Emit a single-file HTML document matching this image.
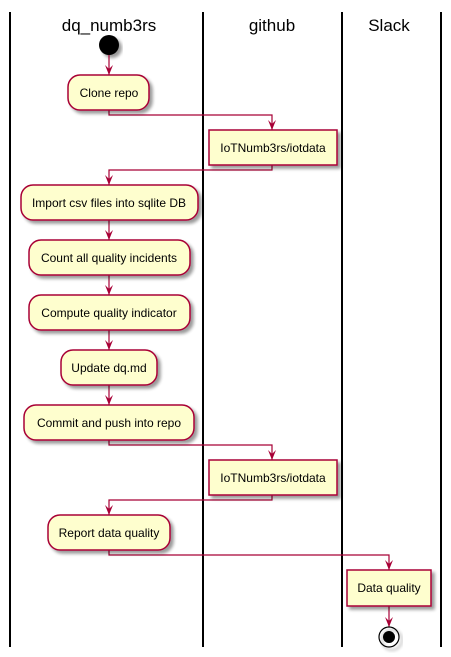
<!DOCTYPE html>
<html><head><style>body{margin:0;background:#fff}svg{display:block}</style></head><body>
<svg width="451" height="657" viewBox="0 0 451 657" xmlns="http://www.w3.org/2000/svg" font-family="Liberation Sans, sans-serif">
<defs><filter id="s" x="-10%" y="-10%" width="130%" height="140%"><feGaussianBlur in="SourceAlpha" stdDeviation="1.5"/><feOffset dx="3" dy="3"/><feComponentTransfer><feFuncA type="linear" slope="0.4"/></feComponentTransfer><feMerge><feMergeNode/><feMergeNode in="SourceGraphic"/></feMerge></filter>
<marker id="a" viewBox="0 0 12 12" refX="6" refY="11" markerWidth="12" markerHeight="12" markerUnits="userSpaceOnUse" orient="auto-start-reverse"></marker></defs>
<g stroke="#000" stroke-width="2"><line x1="10" y1="12" x2="10" y2="647"/><line x1="203" y1="12" x2="203" y2="647"/><line x1="342" y1="12" x2="342" y2="647"/><line x1="441" y1="12" x2="441" y2="647"/></g>
<g font-size="17" text-anchor="middle" fill="#000"><text x="109" y="31">dq_numb3rs</text><text x="272" y="31">github</text><text x="389" y="31">Slack</text></g>
<circle cx="109" cy="45" r="10" fill="#000" filter="url(#s)"/>
<g fill="none" stroke="#A80036" stroke-width="1.2">
<polyline points="109,55 109,75"/>
<polyline points="109,110 109,115 272,115 272,130"/>
<polyline points="272,165 272,170 109,170 109,185"/>
<polyline points="109,220 109,240"/>
<polyline points="109,275 109,295"/>
<polyline points="109,330 109,350"/>
<polyline points="109,385 109,405"/>
<polyline points="109,440 109,445 272,445 272,460"/>
<polyline points="272,495 272,500 109,500 109,515"/>
<polyline points="109,550 109,555 389,555 389,570"/>
<polyline points="389,606 389,627"/>
</g>
<g fill="#A80036">
<path d="M105,65 L109,75 L113,65 L109,69Z"/>
<path d="M268,120 L272,130 L276,120 L272,124Z"/>
<path d="M105,175 L109,185 L113,175 L109,179Z"/>
<path d="M105,230 L109,240 L113,230 L109,234Z"/>
<path d="M105,285 L109,295 L113,285 L109,289Z"/>
<path d="M105,340 L109,350 L113,340 L109,344Z"/>
<path d="M105,395 L109,405 L113,395 L109,399Z"/>
<path d="M268,450 L272,460 L276,450 L272,454Z"/>
<path d="M105,505 L109,515 L113,505 L109,509Z"/>
<path d="M385,560 L389,570 L393,560 L389,564Z"/>
<path d="M385,617 L389,627 L393,617 L389,621Z"/>
</g>
<g fill="#FEFECE" stroke="#A80036" stroke-width="1.5" filter="url(#s)">
<rect x="68" y="75" width="81" height="35" rx="12"/>
<rect x="209" y="130" width="128" height="35"/>
<rect x="21" y="185" width="177" height="35" rx="12"/>
<rect x="29" y="240" width="161" height="35" rx="12"/>
<rect x="29" y="295" width="161" height="35" rx="12"/>
<rect x="61" y="350" width="96" height="35" rx="12"/>
<rect x="24" y="405" width="170" height="35" rx="12"/>
<rect x="209" y="460" width="128" height="35"/>
<rect x="48" y="515" width="122" height="35" rx="12"/>
<rect x="347" y="570" width="84" height="36"/>
</g>
<g font-size="12" text-anchor="middle" fill="#000">
<text x="109" y="97">Clone repo</text>
<text x="273" y="152">IoTNumb3rs/iotdata</text>
<text x="109" y="207">Import csv files into sqlite DB</text>
<text x="109" y="262">Count all quality incidents</text>
<text x="109" y="317">Compute quality indicator</text>
<text x="109" y="372">Update dq.md</text>
<text x="109" y="427">Commit and push into repo</text>
<text x="273" y="482">IoTNumb3rs/iotdata</text>
<text x="109" y="537">Report data quality</text>
<text x="389" y="592">Data quality</text>
</g>
<circle cx="389" cy="637" r="10" fill="none" stroke="#000" stroke-width="1.2" filter="url(#s)"/>
<circle cx="389" cy="637" r="6" fill="#000"/>
</svg>
</body></html>
